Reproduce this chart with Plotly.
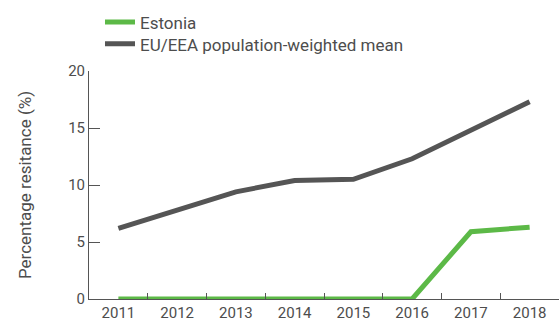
import plotly.graph_objects as go

years = ["2011", "2012", "2013", "2014", "2015", "2016", "2017", "2018"]
estonia = [0, 0, 0, 0, 0, 0, 5.9, 6.3]
eu_mean = [6.2, 7.8, 9.4, 10.4, 10.5, 12.3, 14.8, 17.3]
y_ticks = [0, 5, 10, 15, 20]

GREEN = "#5cb947"
DARK = "#555555"
TXT = "#4d4d4d"
FONT = "Roboto"

fig = go.Figure()
fig.add_trace(go.Scatter(x=years, y=estonia, mode="lines", name="Estonia",
                         line=dict(color=GREEN, width=5), legend="legend"))
fig.add_trace(go.Scatter(x=years, y=eu_mean, mode="lines",
                         name="EU/EEA population-weighted mean",
                         line=dict(color=DARK, width=5), legend="legend2"))

leg_common = dict(xanchor="left", yanchor="middle", font=dict(size=17, color=TXT),
                  itemwidth=30, bgcolor="rgba(0,0,0,0)")

fig.update_layout(
    width=559, height=320,
    margin=dict(l=89, r=0, t=71, b=21),
    paper_bgcolor="white", plot_bgcolor="white",
    font=dict(family=FONT, color=TXT, size=15),
    showlegend=True,
    legend=dict(x=0.0234, y=1.213, **leg_common),
    legend2=dict(x=0.0234, y=1.117, **leg_common),
    xaxis=dict(type="category", range=[-0.5, len(years) - 0.5],
               showline=True, linecolor=DARK, linewidth=1,
               ticks="inside", tickson="boundaries", ticklen=6,
               tickcolor=DARK, showgrid=False, zeroline=False,
               tickfont=dict(size=15, color=TXT), automargin=False),
    yaxis=dict(range=[0, 20], tickvals=y_ticks, showline=True, linecolor=DARK,
               linewidth=1, ticks="inside", ticklen=11, tickcolor=DARK,
               showgrid=False, zeroline=False, automargin=False,
               title=dict(text="Percentage resitance (%)", font=dict(size=17, color=TXT),
                          standoff=32),
               tickfont=dict(size=15, color=TXT)),
)

fig.write_html("out.html", config={"displayModeBar": False},
               post_script="document.body.style.margin='0';document.body.style.overflow='hidden';")
